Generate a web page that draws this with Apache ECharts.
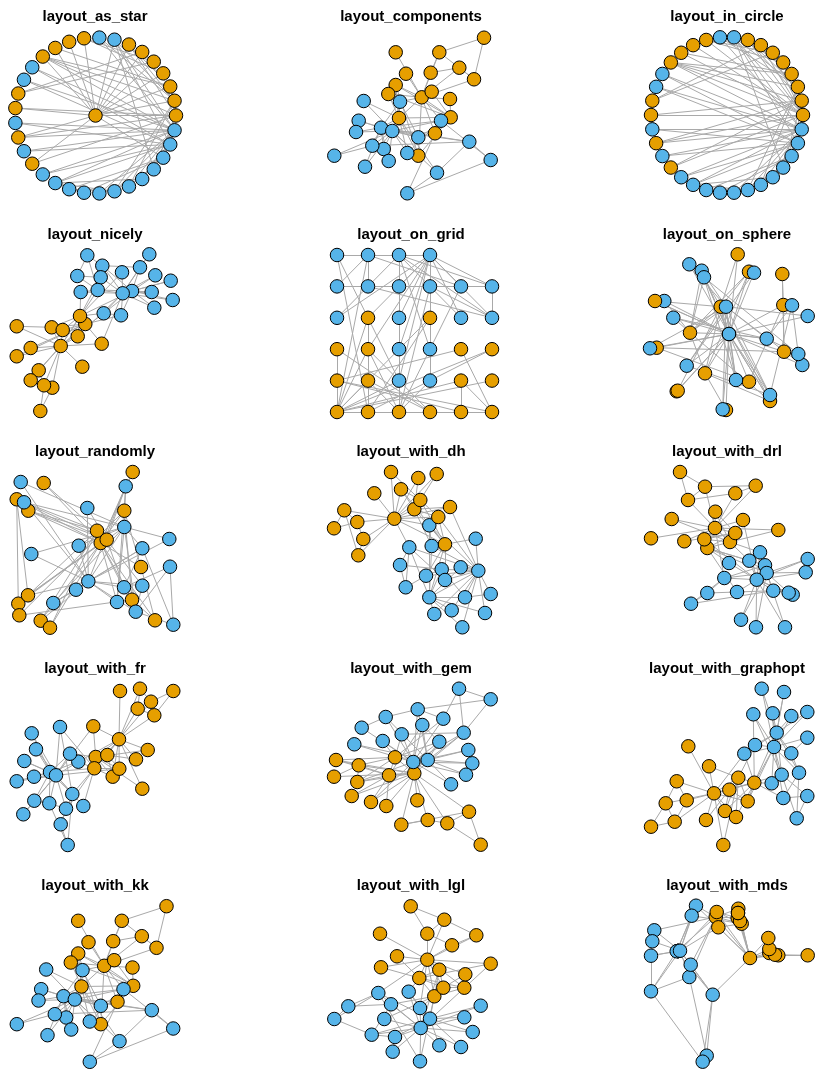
<!DOCTYPE html>
<html><head><meta charset="utf-8">
<script src="https://cdn.jsdelivr.net/npm/echarts@6/dist/echarts.min.js"></script>
<style>html,body{margin:0;padding:0;background:#fff}#c{width:822px;height:1070px}</style>
</head><body><div id="c"></div>
<script>
// Zachary karate club: faction of nodes 1..34 (1 = orange, 2 = blue)
const faction = [1,1,1,1,1,1,1,1,2,2,1,1,1,1,2,2,1,1,2,1,2,1,2,2,2,2,2,2,2,2,2,2,2,2];
const edges = [[1,2],[1,3],[1,4],[1,5],[1,6],[1,7],[1,8],[1,9],[1,11],[1,12],[1,13],[1,14],[1,18],[1,20],[1,22],[1,32],
[2,3],[2,4],[2,8],[2,14],[2,18],[2,20],[2,22],[2,31],
[3,4],[3,8],[3,9],[3,10],[3,14],[3,28],[3,29],[3,33],
[4,8],[4,13],[4,14],[5,7],[5,11],[6,7],[6,11],[6,17],[7,17],
[9,31],[9,33],[9,34],[10,34],[14,34],[15,33],[15,34],[16,33],[16,34],[19,33],[19,34],[20,34],[21,33],[21,34],
[23,33],[23,34],[24,26],[24,28],[24,30],[24,33],[24,34],[25,26],[25,28],[25,32],[26,32],[27,30],[27,34],[28,34],
[29,32],[29,34],[30,33],[30,34],[31,33],[31,34],[32,33],[32,34],[33,34]];

const layoutKK = [[421.7,97.3],[450.7,117.3],[399,118],[395.7,85],[430.7,72.7],[474,79.3],[439.3,52.3],[388.3,94],[400,101.7],[363.7,101],
[459.3,67.7],[395.7,52.3],[406,73.7],[418.3,155.7],[358.7,120.7],[356,132],[484,37.7],[431.7,91.7],[383.7,149],[435,133.3],
[365,166.7],[450,99],[388.7,161],[469.3,141.7],[407.3,193.3],[490.7,160],[334.3,155.7],[437,172.7],[407.3,153],[372.3,145.7],
[418.3,137.3],[441,120.7],[381,127.7],[392.3,131]];
const layoutNicely = [[60.7,346],[85.3,324],[80,316],[51.7,327.3],[38.7,370.3],[52.3,387.7],[44,385.3],[62.7,330],[103.7,313.3],[122,272.3],
[30.7,380.3],[82.3,366.7],[16.7,326.3],[77.7,336.3],[155.3,275.3],[170.7,280.7],[40.3,411],[30.7,348],[151.7,292],[101.7,343.7],
[172.7,300],[16.7,356.3],[154.3,307.7],[102.3,265.7],[77.3,276],[87.3,255.3],[149.3,254.3],[100.7,277.3],[80.7,292],[140,267.3],
[121,315.3],[97.7,290],[132,291],[122.7,293.3]];
const layoutSphere = [[729,334],[720.7,306.7],[690,332.7],[705,373.3],[749,381.7],[784,351.7],[783.3,305],[749,271.7],[701.7,270.7],[664.3,301],
[656.7,347.7],[676.7,391.3],[726,410],[770,401],[802.3,365],[807.7,316],[782.3,274],[737.7,254.3],[689.3,264.3],[655,301],
[650,348.3],[677.7,390.7],[722.7,409.3],[770,395],[798.3,354],[792,305.3],[754,272.7],[704,277.3],[673.3,317.7],[686.7,365.7],
[736,380],[766.7,338.7],[726,306.7],[729,334]];
const layoutRandom = [[100.7,543],[97,530.7],[106.7,539.7],[16.7,499.3],[141,567],[132,599.7],[124.3,510.7],[28.3,510.7],[125.7,486.3],[87.3,508],
[155,620.3],[132.7,472],[18.3,603.7],[28,595.3],[20.7,482],[24,502.3],[19.3,615.3],[43.7,483],[31.3,554],[40.7,620.7],
[78.7,545.7],[50,627.7],[169.3,539],[142.3,548.3],[170,566.7],[173.3,624.7],[76,589.7],[124,587.3],[142.3,585.7],[53.3,603],
[117,602],[135.7,611.7],[124.3,527],[88.3,581.3]];
const layoutDH = [[394.3,518.7],[414.3,509.3],[445,544.3],[420.3,500],[358.3,555.3],[357.3,522],[344.3,510.3],[401,489.3],[429.3,525.3],[475.7,538.7],
[363.3,539],[374.3,493.3],[391,472],[438.3,517],[434.3,614],[451.7,610.3],[334,528.3],[418.3,478],[462.3,627.3],[450,507],
[485,613],[436.7,474],[460.7,567.3],[441.7,569.3],[405.7,587.3],[400,565],[490.7,594],[426,575.7],[445,580],[465,597.3],
[431.7,546],[409.3,547.3],[429.3,597.3],[478.3,570.7]];
const layoutDRL = [[715,528],[730,542],[707.3,548],[735.3,533],[755.7,485.7],[688,500],[705,486.7],[715.3,511.7],[749.3,560.7],[729,563],
[735.3,493.3],[651,538.3],[684.3,541.3],[704.3,539.3],[807.7,559],[805.7,572.3],[680,472],[778.3,530],[741,619.7],[743,520],
[756,627.3],[671.7,519],[785,627.3],[773.3,590.7],[707.3,593],[691,603.7],[792.7,594.7],[737,592],[765,565.3],[788.7,592.7],
[760,552.3],[724.3,578],[766.7,573],[756.7,579.7]];
const layoutFR = [[119,739.3],[95.7,757],[94.3,768.3],[107.3,755],[137.7,708.7],[151,701.7],[154.3,715.3],[112.7,776.7],[78.3,761.7],[83.3,806],
[140,688.7],[120,691],[136,759.3],[119.3,768.7],[31.7,733.3],[36,749.3],[173.3,691],[147.7,750],[24.3,761],[93.3,726.3],
[34,776.7],[142.3,788.7],[16.7,781.3],[49.3,803.3],[60.7,824.3],[67.7,845],[23.3,814.3],[66,808.7],[60,727],[34.3,800.7],
[70,753.7],[72.3,794],[50,772],[56,775.3]];
const layoutGEM = [[414.3,773.3],[389,775.3],[395,757.3],[358.7,765.3],[427.7,820],[469,811.7],[447.3,823.3],[336,760],[439.3,741.7],[382.7,741],
[401.3,824.7],[417.3,800.3],[334,776.7],[357.3,782],[354.3,744.3],[468.3,750],[480.7,844.7],[351.7,796],[472.3,763.3],[371,802],
[466,774.7],[386.3,806],[451,784.3],[417.7,709.3],[459,688.7],[490.7,699.3],[361.7,727.7],[443.3,718.7],[401.7,734.3],[385.7,717],
[422.3,725],[463.7,732.7],[427.7,760],[413.3,762]];
const layoutGraphopt = [[714,793.3],[738.3,777.7],[754.3,782.7],[729.3,789.7],[676.7,781.3],[674.7,821.7],[665.7,803.3],[725,811],[744.3,753.7],[771.7,783.3],
[686.7,800.3],[688.3,746.3],[706,820],[747.7,801.3],[761.7,688.7],[784,692],[651,826.7],[709,766.3],[772.7,713.3],[736,817],
[791.3,716],[723.3,845],[807.3,712],[799,772.7],[807.3,796],[796.7,818.3],[807.3,737.7],[783.3,798],[753.3,714.3],[791.3,753.3],
[755,745],[781.7,774.7],[776.7,732.7],[774,747]];
const layoutLGL = [[427.3,959.7],[419.3,978],[434.3,996.3],[443.3,987.7],[476.3,935.3],[427.3,933.7],[444.3,919.7],[464.3,987.7],[420,1008],[384.3,1019],
[452,945.3],[380,933.7],[465.3,974.3],[439.3,969.7],[480.7,1005.7],[464.3,1017.3],[410.7,906.3],[397,956.3],[472.7,1032],[490.7,963.7],
[439.3,1045.3],[381,967.3],[461,1047],[371.7,1034.7],[348.3,1006.3],[334.3,1019],[392.7,1051.7],[391,1004.3],[420,1061.3],[395,1037],
[408.7,991.7],[378.3,993],[430,1018.7],[420.7,1028]];
const layoutMDS = [[750,958],[741.7,923.7],[715.7,917],[737.7,918],[769.3,953],[778.3,955.3],[775,954.7],[738.3,908.7],[696,905.7],[654.3,930.3],
[769.3,949],[768.3,938],[740,921],[716.7,912],[678,951],[678,951],[807.7,955.3],[738,913],[678,951],[718.3,927.3],
[678,951],[738,913],[678,951],[651,991.3],[706.7,1055.7],[702.7,1061.7],[652.3,941.3],[689.3,977],[690.7,964.7],[651,955.7],
[691.7,915.7],[712.7,994.7],[676.7,951.3],[680,950.7]];

const titles = ['layout_as_star','layout_components','layout_in_circle','layout_nicely','layout_on_grid','layout_on_sphere',
'layout_randomly','layout_with_dh','layout_with_drl','layout_with_fr','layout_with_gem','layout_with_graphopt',
'layout_with_kk','layout_with_lgl','layout_with_mds'];

// igraph's deterministic layouts
function layoutAsStar(n){ const out=[[0,0]]; for(let i=0;i<n-1;i++){const a=2*Math.PI*i/(n-1); out.push([Math.cos(a),Math.sin(a)]);} return out; }
function layoutInCircle(n){ const out=[]; for(let i=0;i<n;i++){const a=2*Math.PI*i/n; out.push([Math.cos(a),Math.sin(a)]);} return out; }
function layoutOnGrid(n,w){ const out=[]; for(let i=0;i<n;i++) out.push([i%w, Math.floor(i/w)]); return out; }

const N = 34;
const COLORS = {1:'#E69F00', 2:'#56B4E9'};
const colX = [95, 411, 727];
const rowY = [17, 235, 452, 669, 886];

const cell = (c,r)=>({left:c*274, top:r*214, width:274, height:214});
const absPanel = (lay,c,r,dx=0,dy=0)=>{ const b=cell(c,r); return {lay, box:b, xr:[b.left-dx,b.left+b.width-dx], yr:[b.top-dy,b.top+b.height-dy], inv:true}; };
const panels = [
  {lay:layoutAsStar(N), box:{left:15,top:37.5,width:161,height:156}, xr:[-1,1], yr:[-1,1], inv:false},
  absPanel(layoutKK,1,0),
  {lay:layoutInCircle(N), box:{left:651,top:37,width:152,height:156}, xr:[-1,1], yr:[-1,1], inv:false},
  absPanel(layoutNicely,0,1),
  {lay:layoutOnGrid(N,6), box:{left:337,top:255,width:155,height:157}, xr:[0,5], yr:[0,5], inv:false},
  absPanel(layoutSphere,2,1),
  absPanel(layoutRandom,0,2),
  absPanel(layoutDH,1,2),
  absPanel(layoutDRL,2,2),
  absPanel(layoutFR,0,3),
  absPanel(layoutGEM,1,3),
  absPanel(layoutGraphopt,2,3),
  absPanel(layoutKK,0,4,-317.5,868.5),
  absPanel(layoutLGL,1,4),
  absPanel(layoutMDS,2,4)
];

const grid=[], xAxis=[], yAxis=[], series=[], graphic=[];
panels.forEach((p,i)=>{
  grid.push(Object.assign({containLabel:false, show:false}, p.box));
  xAxis.push({type:'value', gridIndex:i, min:p.xr[0], max:p.xr[1], show:false});
  yAxis.push({type:'value', gridIndex:i, min:p.yr[0], max:p.yr[1], inverse:p.inv, show:false});
  series.push({
    type:'graph', coordinateSystem:'cartesian2d', xAxisIndex:i, yAxisIndex:i,
    symbol:'circle', symbolSize:13.5, silent:true, animation:false,
    edgeSymbol:['none','none'],
    lineStyle:{color:'#A9A9A9', width:1, opacity:1, curveness:0},
    label:{show:false}, emphasis:{disabled:true},
    data: p.lay.map((xy,k)=>({name:String(k+1), value:xy, itemStyle:{color:COLORS[faction[k]], borderColor:'#000', borderWidth:1}})),
    links: edges.map(e=>({source:e[0]-1, target:e[1]-1}))
  });
  graphic.push({type:'text', x:colX[i%3], y:rowY[Math.floor(i/3)], silent:true,
    style:{text:titles[i], align:'center', verticalAlign:'middle', fill:'#000', font:'bold 15px "Liberation Sans", Arial, sans-serif'}});
});

const chart = echarts.init(document.getElementById('c'), null, {renderer:'canvas'});
chart.setOption({animation:false, backgroundColor:'#fff', grid, xAxis, yAxis, series, graphic});
</script>
</body></html>
